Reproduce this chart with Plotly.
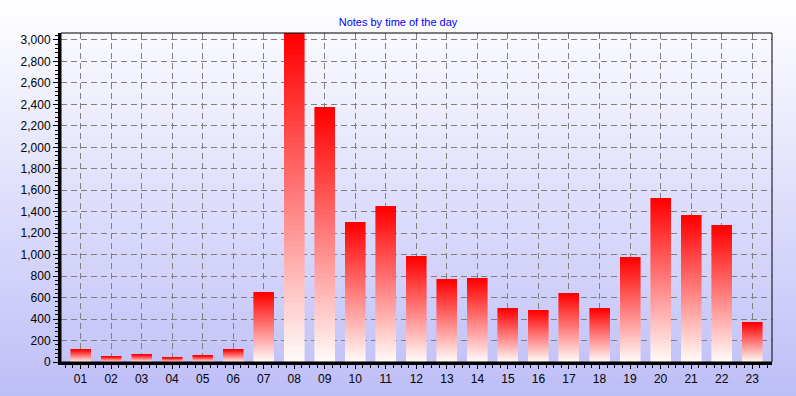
import plotly.graph_objects as go

# ---- data ----
hours = ["01", "02", "03", "04", "05", "06", "07", "08", "09", "10", "11", "12",
         "13", "14", "15", "16", "17", "18", "19", "20", "21", "22", "23"]
notes = [118, 53, 72, 44, 62, 118, 650, 3065, 2375, 1302, 1451, 985,
         771, 779, 500, 482, 640, 500, 976, 1526, 1367, 1274, 370]
y_tick_values = list(range(0, 3001, 200))
title_text = "Notes by time of the day"

positions = list(range(len(hours)))

# ---- styling ----
N_SEG = 60
top_rgb = (255, 0, 0)
bot_rgb = (255, 250, 248)


def lerp(a, b, t):
    return tuple(round(a[i] + (b[i] - a[i]) * t) for i in range(3))


fig = go.Figure()
for k in range(N_SEG):
    t = k / (N_SEG - 1)  # 0 bottom -> 1 top
    c = lerp(bot_rgb, top_rgb, t)
    col = "rgb(%d,%d,%d)" % c
    fig.add_trace(go.Bar(
        x=positions,
        y=[v / N_SEG for v in notes],
        width=0.655,
        marker=dict(color=col, line=dict(color=col, width=0.6)),
        hoverinfo="skip",
        showlegend=False,
    ))

# background gradient (whole page, top white -> bottom lavender)
W, H = 796, 396
ml, mr, mt, mb = 61, 24, 33, 34
pw, ph = W - ml - mr, H - mt - mb
bg_top = (255, 255, 255)
bg_bot = (190, 190, 248)
shapes = []
NB = 99
for i in range(NB):
    p0 = H * i / NB
    p1 = H * (i + 1) / NB + 0.8
    c = lerp(bg_top, bg_bot, (i + 0.5) / NB)
    shapes.append(dict(
        type="rect", xref="paper", yref="paper", layer="below",
        x0=-ml / pw, x1=(W - ml) / pw,
        y0=(H - mb - p1) / ph, y1=(H - mb - p0) / ph,
        fillcolor="rgb(%d,%d,%d)" % c, line=dict(width=0),
    ))
# thin frame around the plot area
shapes.append(dict(type="rect", xref="x domain", yref="y domain",
                   x0=0, x1=1, y0=0, y1=1, layer="above",
                   line=dict(color="black", width=1)))

fig.update_layout(
    width=W, height=H,
    margin=dict(l=ml, r=mr, t=mt, b=mb, pad=0, autoexpand=False),
    barmode="stack",
    bargap=0,
    paper_bgcolor="white",
    plot_bgcolor="rgba(0,0,0,0)",
    shapes=shapes,
    font=dict(family="Liberation Sans, Arial, sans-serif", size=12, color="black"),
    title=dict(text=title_text, x=0.5, xanchor="center", y=1 - 22 / H,
               yanchor="middle", yref="container",
               font=dict(family="Liberation Sans, Arial, sans-serif", size=11, color="#0000FF")),
)

fig.update_xaxes(
    range=[-0.64, 22.65],
    tickmode="array", tickvals=positions, ticktext=hours,
    showgrid=True, gridcolor="#808080", griddash="6px,4px", gridwidth=1,
    showline=True, linecolor="black", linewidth=3,
    ticks="outside", ticklen=4, tickcolor="black", tickwidth=1,
    minor=dict(tickmode="linear", tick0=0, dtick=0.25, ticks="outside",
               ticklen=3, tickcolor="black", showgrid=False),
    zeroline=False,
    tickfont=dict(size=12, color="black"),
    fixedrange=True,
)
fig.update_yaxes(
    range=[0, 3065],
    tickmode="array", tickvals=y_tick_values, tickformat=",",
    showgrid=True, gridcolor="#808080", griddash="6px,4px", gridwidth=1,
    showline=True, linecolor="black", linewidth=3,
    ticks="outside", ticklen=5, tickcolor="black", tickwidth=1,
    minor=dict(tickmode="linear", tick0=0, dtick=40, ticks="outside",
               ticklen=3, tickcolor="black", showgrid=False),
    zeroline=False,
    tickfont=dict(size=12, color="black"),
    fixedrange=True,
)

fig.write_html(
    "out.html",
    config={"displayModeBar": False, "staticPlot": True},
    post_script="document.body.style.margin='0';document.body.style.padding='0';",
)
